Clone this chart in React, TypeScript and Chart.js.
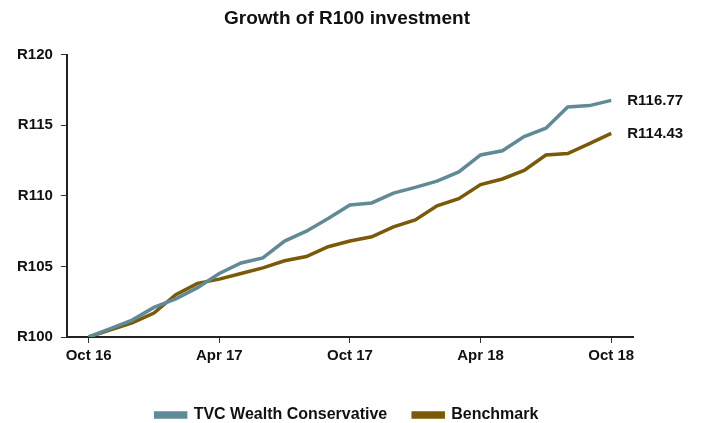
import React, { useEffect, useRef } from "react";
import { Chart, registerables } from "chart.js";

Chart.register(...registerables);

const monthLabels = [
  "Oct 16", "Nov 16", "Dec 16", "Jan 17", "Feb 17", "Mar 17", "Apr 17", "May 17", "Jun 17",
  "Jul 17", "Aug 17", "Sep 17", "Oct 17", "Nov 17", "Dec 17", "Jan 18", "Feb 18", "Mar 18",
  "Apr 18", "May 18", "Jun 18", "Jul 18", "Aug 18", "Sep 18", "Oct 18",
];

const tvcValues = [
  100, 100.6, 101.2, 102.1, 102.7, 103.5, 104.5, 105.25, 105.6, 106.8, 107.5, 108.4,
  109.35, 109.5, 110.2, 110.6, 111.05, 111.7, 112.9, 113.2, 114.2, 114.8, 116.3, 116.4, 116.77,
];

const benchmarkValues = [
  100, 100.5, 101.0, 101.7, 103.0, 103.8, 104.1, 104.5, 104.9, 105.4, 105.7, 106.4,
  106.8, 107.1, 107.8, 108.3, 109.3, 109.8, 110.8, 111.2, 111.8, 112.9, 113.0, 113.7, 114.43,
];

const seriesNames = ["TVC Wealth Conservative", "Benchmark"];
const endLabels = ["R116.77", "R114.43"];
const tickMonths = [0, 6, 12, 18, 24];

const FONT = "Arial, 'Liberation Sans', sans-serif";

export default function App() {
  const canvasRef = useRef<HTMLCanvasElement | null>(null);

  useEffect(() => {
    if (!canvasRef.current) return;
    const endLabelPlugin = {
      id: "endLabels",
      afterDatasetsDraw(chart: any) {
        const ctx = chart.ctx;
        ctx.save();
        ctx.font = `bold 15px ${FONT}`;
        ctx.fillStyle = "#111";
        ctx.textBaseline = "middle";
        ctx.textAlign = "left";
        chart.data.datasets.forEach((ds: any, i: number) => {
          const meta = chart.getDatasetMeta(i);
          const pt = meta.data[meta.data.length - 1];
          if (pt) ctx.fillText(endLabels[i], pt.x + 16, pt.y);
        });
        ctx.restore();
      },
    };

    const chart = new Chart(canvasRef.current, {
      type: "line",
      data: {
        datasets: [
          {
            label: seriesNames[0],
            data: tvcValues.map((v, i) => ({ x: i, y: v })),
            borderColor: "#5f8a96",
            backgroundColor: "#5f8a96",
            borderWidth: 3.5,
            pointRadius: 0,
            tension: 0,
          },
          {
            label: seriesNames[1],
            data: benchmarkValues.map((v, i) => ({ x: i, y: v })),
            borderColor: "#7a5a06",
            backgroundColor: "#7a5a06",
            borderWidth: 3.5,
            pointRadius: 0,
            tension: 0,
          },
        ],
      },
      options: {
        animation: false,
        responsive: true,
        maintainAspectRatio: false,
        layout: { padding: { left: 9, right: 20, top: 7, bottom: -10 } },
        plugins: {
          title: {
            display: true,
            text: "Growth of R100 investment",
            color: "#111",
            font: { family: FONT, size: 19, weight: "bold", lineHeight: 1.2 },
            padding: { top: 0, bottom: 25 },
          },
          legend: {
            position: "bottom",
            labels: {
              boxWidth: 30,
              boxHeight: 4,
              color: "#111",
              padding: 26,
              font: { family: FONT, size: 16, weight: "bold", lineHeight: 1 },
            },
          },
          tooltip: { enabled: false },
        },
        scales: {
          x: {
            type: "linear",
            min: -1,
            max: 25,
            afterBuildTicks(scale: any) {
              scale.ticks = tickMonths.map((v) => ({ value: v }));
            },
            afterFit(scale: any) {
              scale.height += 12;
            },
            ticks: {
              color: "#111",
              font: { family: FONT, size: 15, weight: "bold" },
              padding: 4,
              maxRotation: 0,
              callback: (v: any) => monthLabels[Number(v)] ?? "",
            },
            grid: { drawOnChartArea: false, drawTicks: true, tickLength: 6, color: "#333" },
            border: { display: true, color: "#222", width: 2 },
          },
          y: {
            min: 100,
            max: 120,
            ticks: {
              stepSize: 5,
              color: "#111",
              font: { family: FONT, size: 15, weight: "bold" },
              padding: 8,
              callback: (v: any) => "R" + v,
            },
            grid: { drawOnChartArea: false, drawTicks: true, tickLength: 6, color: "#333" },
            border: { display: true, color: "#222", width: 2 },
          },
          yRightSpace: {
            position: "right",
            min: 100,
            max: 120,
            ticks: { display: false },
            grid: { display: false },
            border: { display: false },
            afterFit(scale: any) {
              scale.width = 52;
            },
          },
        },
      },
      plugins: [endLabelPlugin],
    } as any);
    return () => chart.destroy();
  }, []);

  return (
    <div style={{ position: "fixed", left: 0, top: 0, width: 705, height: 423, background: "#fff" }}>
      <canvas ref={canvasRef} />
    </div>
  );
}
